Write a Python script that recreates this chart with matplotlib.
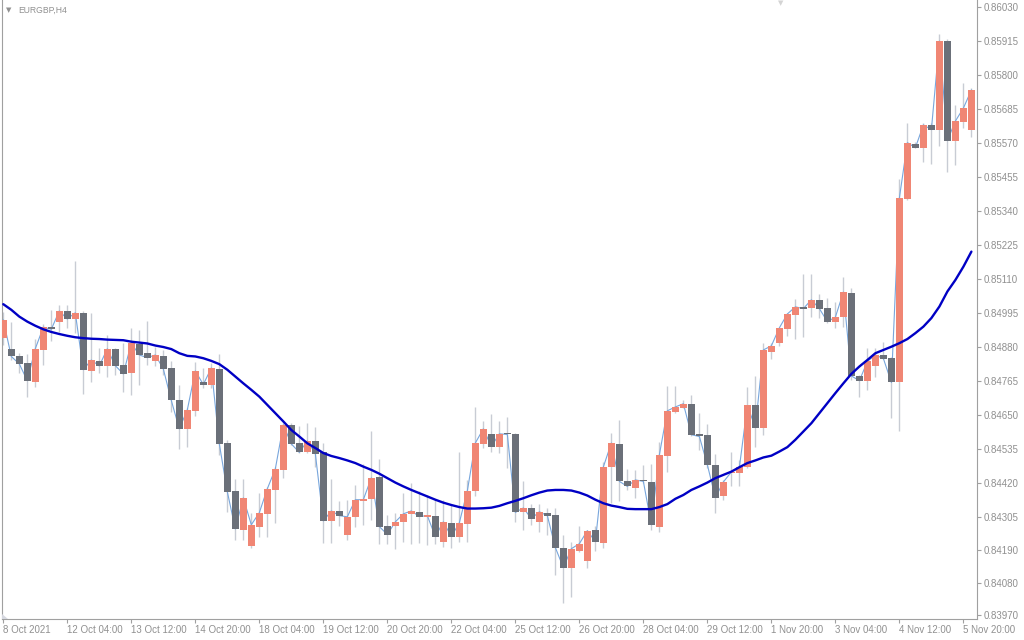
import matplotlib.pyplot as plt
import numpy as np

# EURGBP H4 candles (oldest -> newest)
opens = [0.84908, 0.84873, 0.84849, 0.84825, 0.84762, 0.84870, 0.84947, 0.84965, 0.85001, 0.84974,
         0.84995, 0.84799, 0.84832, 0.84813, 0.84873, 0.84819, 0.84792, 0.84889, 0.84859, 0.84832,
         0.84849, 0.84808, 0.84700, 0.84602, 0.84664, 0.84762, 0.84752, 0.84805, 0.84554, 0.84392,
         0.84260, 0.84206, 0.84270, 0.84314, 0.84395, 0.84463, 0.84615, 0.84554, 0.84522, 0.84561,
         0.84522, 0.84291, 0.84324, 0.84241, 0.84302, 0.84359, 0.84363, 0.84438, 0.84274, 0.84274,
         0.84285, 0.84312, 0.84321, 0.84305, 0.84307, 0.84220, 0.84284, 0.84237, 0.84281, 0.84390,
         0.84551, 0.84585, 0.84542, 0.84585, 0.84585, 0.84319, 0.84334, 0.84288, 0.84318, 0.84311,
         0.84199, 0.84132, 0.84189, 0.84156, 0.84260, 0.84217, 0.84471, 0.84551, 0.84426, 0.84400,
         0.84429, 0.84422, 0.84270, 0.84510, 0.84660, 0.84674, 0.84687, 0.84585, 0.84582, 0.84480,
         0.84373, 0.84452, 0.84452, 0.84472, 0.84681, 0.84606, 0.84863, 0.84891, 0.84941, 0.84988,
         0.85015, 0.85012, 0.85039, 0.85011, 0.84965, 0.84979, 0.85061, 0.84781, 0.84765, 0.84813,
         0.84852, 0.84843, 0.84759, 0.85380, 0.85567, 0.85554, 0.85631, 0.85615, 0.85915, 0.85578,
         0.85642, 0.85615]
highs = [0.84999, 0.84964, 0.84860, 0.84856, 0.84907, 0.84957, 0.85005, 0.85022, 0.85022, 0.85171,
         0.85001, 0.84995, 0.84876, 0.84920, 0.84876, 0.84893, 0.84944, 0.84937, 0.84968, 0.84880,
         0.84869, 0.84832, 0.84751, 0.84673, 0.84829, 0.84808, 0.84825, 0.84856, 0.84565, 0.84433,
         0.84433, 0.84318, 0.84385, 0.84406, 0.84474, 0.84622, 0.84622, 0.84610, 0.84623, 0.84609,
         0.84554, 0.84433, 0.84356, 0.84362, 0.84412, 0.84483, 0.84595, 0.84500, 0.84311, 0.84318,
         0.84386, 0.84419, 0.84390, 0.84378, 0.84362, 0.84362, 0.84345, 0.84525, 0.84429, 0.84677,
         0.84627, 0.84653, 0.84629, 0.84643, 0.84587, 0.84424, 0.84348, 0.84348, 0.84334, 0.84334,
         0.84243, 0.84220, 0.84274, 0.84260, 0.84274, 0.84491, 0.84589, 0.84632, 0.84466, 0.84461,
         0.84480, 0.84483, 0.84559, 0.84747, 0.84747, 0.84700, 0.84717, 0.84656, 0.84619, 0.84517,
         0.84429, 0.84524, 0.84497, 0.84745, 0.84781, 0.84892, 0.84892, 0.84944, 0.84995, 0.85042,
         0.85127, 0.85127, 0.85059, 0.85046, 0.85031, 0.85115, 0.85078, 0.84783, 0.84875, 0.84875,
         0.84897, 0.84845, 0.85447, 0.85637, 0.85574, 0.85637, 0.85637, 0.85939, 0.85922, 0.85699,
         0.85774, 0.85755]
lows = [0.84886, 0.84835, 0.84790, 0.84711, 0.84745, 0.84819, 0.84901, 0.84931, 0.84944, 0.84927,
        0.84720, 0.84759, 0.84792, 0.84779, 0.84785, 0.84728, 0.84715, 0.84751, 0.84819, 0.84813,
        0.84785, 0.84660, 0.84533, 0.84542, 0.84644, 0.84741, 0.84741, 0.84514, 0.84322, 0.84226,
        0.84226, 0.84199, 0.84237, 0.84237, 0.84283, 0.84435, 0.84548, 0.84520, 0.84520, 0.84474,
        0.84217, 0.84217, 0.84274, 0.84226, 0.84271, 0.84277, 0.84294, 0.84213, 0.84213, 0.84195,
        0.84220, 0.84213, 0.84215, 0.84207, 0.84213, 0.84203, 0.84198, 0.84220, 0.84220, 0.84373,
        0.84537, 0.84522, 0.84520, 0.84469, 0.84288, 0.84260, 0.84276, 0.84254, 0.84243, 0.84108,
        0.84012, 0.84032, 0.84186, 0.84132, 0.84189, 0.84197, 0.84350, 0.84356, 0.84395, 0.84367,
        0.84420, 0.84260, 0.84253, 0.84457, 0.84657, 0.84671, 0.84576, 0.84531, 0.84469, 0.84317,
        0.84362, 0.84407, 0.84407, 0.84469, 0.84542, 0.84582, 0.84838, 0.84884, 0.84917, 0.84907,
        0.84914, 0.84980, 0.84977, 0.84960, 0.84943, 0.84948, 0.84768, 0.84711, 0.84734, 0.84779,
        0.84838, 0.84638, 0.84596, 0.85377, 0.85552, 0.85507, 0.85499, 0.85560, 0.85473, 0.85496,
        0.85620, 0.85591]
closes = [0.84971, 0.84847, 0.84822, 0.84765, 0.84873, 0.84946, 0.84939, 0.85001, 0.84974, 0.84995,
          0.84802, 0.84835, 0.84815, 0.84873, 0.84816, 0.84788, 0.84892, 0.84852, 0.84843, 0.84852,
          0.84805, 0.84698, 0.84602, 0.84666, 0.84798, 0.84752, 0.84808, 0.84551, 0.84389, 0.84263,
          0.84368, 0.84277, 0.84318, 0.84399, 0.84466, 0.84615, 0.84551, 0.84522, 0.84561, 0.84518,
          0.84290, 0.84324, 0.84308, 0.84304, 0.84362, 0.84362, 0.84436, 0.84271, 0.84244, 0.84287,
          0.84314, 0.84324, 0.84305, 0.84308, 0.84237, 0.84287, 0.84237, 0.84284, 0.84392, 0.84554,
          0.84602, 0.84542, 0.84585, 0.84583, 0.84319, 0.84334, 0.84298, 0.84321, 0.84308, 0.84200,
          0.84132, 0.84196, 0.84213, 0.84257, 0.84220, 0.84473, 0.84554, 0.84424, 0.84407, 0.84429,
          0.84424, 0.84277, 0.84514, 0.84663, 0.84676, 0.84687, 0.84582, 0.84576, 0.84480, 0.84369,
          0.84422, 0.84456, 0.84471, 0.84681, 0.84606, 0.84869, 0.84883, 0.84944, 0.84991, 0.85015,
          0.85009, 0.85039, 0.85009, 0.84965, 0.84980, 0.85065, 0.84781, 0.84765, 0.84830, 0.84852,
          0.84840, 0.84759, 0.85384, 0.85571, 0.85554, 0.85631, 0.85615, 0.85915, 0.85578, 0.85644,
          0.85688, 0.85749]

# smooth moving average drawn over the candles
ma = [0.85024, 0.85005, 0.84982, 0.84965, 0.84951, 0.84939, 0.84930, 0.84923, 0.84917, 0.84912,
      0.84909, 0.84907, 0.84906, 0.84904, 0.84903, 0.84902, 0.84897, 0.84894, 0.84891, 0.84884,
      0.84879, 0.84872, 0.84858, 0.84849, 0.84847, 0.84841, 0.84832, 0.84821, 0.84802, 0.84779,
      0.84756, 0.84734, 0.84711, 0.84683, 0.84655, 0.84627, 0.84598, 0.84576, 0.84553, 0.84537,
      0.84520, 0.84510, 0.84503, 0.84495, 0.84486, 0.84474, 0.84463, 0.84450, 0.84435, 0.84420,
      0.84407, 0.84395, 0.84384, 0.84373, 0.84362, 0.84352, 0.84344, 0.84337, 0.84332, 0.84332,
      0.84333, 0.84335, 0.84341, 0.84350, 0.84358, 0.84367, 0.84377, 0.84386, 0.84393, 0.84395,
      0.84395, 0.84393, 0.84386, 0.84376, 0.84362, 0.84350, 0.84342, 0.84337, 0.84331, 0.84330,
      0.84330, 0.84330, 0.84337, 0.84347, 0.84365, 0.84378, 0.84395, 0.84407, 0.84420, 0.84435,
      0.84446, 0.84457, 0.84472, 0.84486, 0.84495, 0.84505, 0.84511, 0.84525, 0.84540, 0.84565,
      0.84593, 0.84621, 0.84655, 0.84689, 0.84723, 0.84756, 0.84788, 0.84813, 0.84835, 0.84858,
      0.84869, 0.84880, 0.84892, 0.84906, 0.84926, 0.84948, 0.84977, 0.85016, 0.85067, 0.85106,
      0.85151, 0.85202]

time_labels = ["8 Oct 2021", "12 Oct 04:00", "13 Oct 12:00", "14 Oct 20:00", "18 Oct 04:00",
               "19 Oct 12:00", "20 Oct 20:00", "22 Oct 04:00", "25 Oct 12:00", "26 Oct 20:00",
               "28 Oct 04:00", "29 Oct 12:00", "1 Nov 20:00", "3 Nov 04:00", "4 Nov 12:00", "5 Nov 20:00"]
price_labels = ["0.86030", "0.85915", "0.85800", "0.85685", "0.85570", "0.85455", "0.85340",
                "0.85225", "0.85110", "0.84995", "0.84880", "0.84765", "0.84650", "0.84535",
                "0.84420", "0.84305", "0.84190", "0.84080", "0.83970"]

plt.rcParams['font.family'] = ['Liberation Sans', 'DejaVu Sans']
grey = '#909090'

fig = plt.figure(figsize=(10.24, 6.4), dpi=100)
ax = fig.add_axes([2 / 1024, 21 / 640, 975 / 1024, 619 / 640])

x = np.arange(len(closes))
o = np.array(opens)
c = np.array(closes)
bull = c >= o
colors = np.where(bull, '#f08674', '#6b7079')
bottom = np.minimum(o, c)
height = np.maximum(np.abs(c - o), 0.00004)

ax.vlines(x, lows, highs, color='#c8ccd4', lw=1, zorder=1)
ax.plot(x, closes, color='#78a6dc', lw=0.8, zorder=2)
ax.bar(x, height, 0.875, bottom, color=colors, linewidth=0, zorder=3)
ax.plot(x, ma, color='#0000c4', lw=1.7, zorder=4, solid_capstyle='round')

ax.set_xlim(-0.16, 121.7)
ax.set_ylim(0.83958, 0.86054)

ax.set_xticks(x[::8])
ax.set_xticklabels(time_labels, ha='left')
ax.set_yticks([float(p) for p in price_labels])
ax.set_yticklabels(price_labels)
ax.yaxis.tick_right()
ax.tick_params(axis='both', colors='#a0a0a0', labelcolor=grey, labelsize=7,
               length=3, width=0.8, pad=2)
ax.tick_params(axis='x', pad=1)

for side in ['left', 'bottom', 'right']:
    ax.spines[side].set_color('#a0a0a0')
    ax.spines[side].set_linewidth(0.8)
ax.spines['top'].set_visible(False)

# small corner marker at bottom-left of the chart frame
ax.fill([0, 0, 6 / 975], [5 / 619, 0, 0], transform=ax.transAxes,
        color='#d6d8e0', lw=0, clip_on=False, zorder=5)

fig.text(6 / 1024, 1 - 10.5 / 640, '▼', fontsize=5, color=grey, va='center',
         family='DejaVu Sans')
fig.text(18 / 1024, 1 - 10.5 / 640, 'EURGBP,H4', fontsize=6.2, color=grey, va='center')
fig.text(781 / 1024, 1 - 3 / 640, '▼', fontsize=5, color='#d4d4d4', va='center',
         ha='center', family='DejaVu Sans')

fig.savefig('out.png', dpi=100, facecolor='white')
